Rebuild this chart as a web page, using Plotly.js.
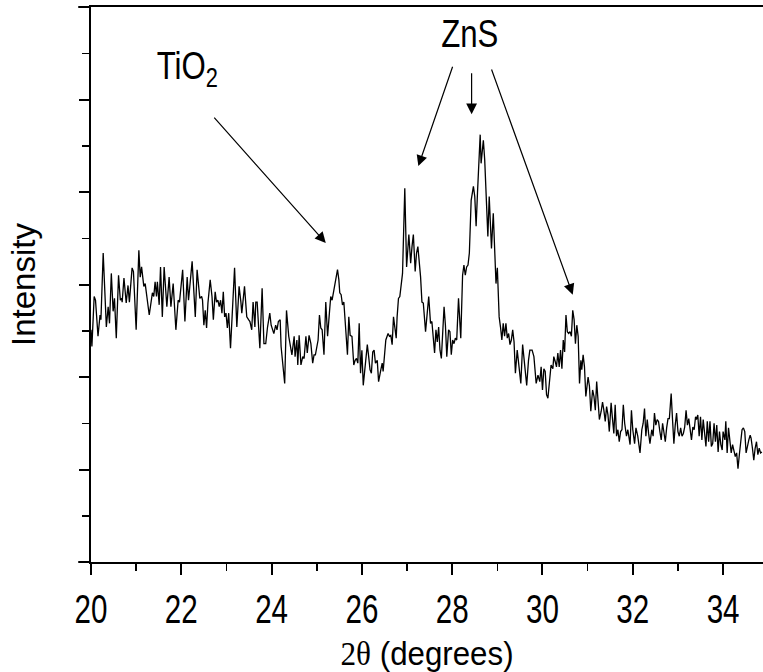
<!DOCTYPE html>
<html>
<head>
<meta charset="utf-8">
<script src="https://cdn.plot.ly/plotly-3.0.1.min.js"></script>
<style>html,body{margin:0;padding:0;background:#fff;}</style>
</head>
<body>
<div id="chart" style="width:763px;height:672px;"></div>
<script>
// 2θ (degrees) and intensity (a.u.), in six stretches
const seg1X = [20.00,20.02,20.07,20.10,20.155,20.20,20.22,20.27,20.34,20.38,20.41,20.45,20.49,20.52,20.56,20.61,20.65,20.68,20.69,20.73,20.78,20.82,20.85,20.91,20.94,21.00,21.06,21.09,21.12,21.17,21.20,21.29,21.36,21.39,21.42,21.45,21.47,21.51,21.54,21.58,21.62,21.68,21.73,21.77,21.82,21.88,21.93,21.96,22.03,22.08,22.13,22.16,22.24,22.31,22.35,22.41];
const seg1Y = [251,233,287,283,244,267,262,334,254,276,258,312,271,285,242,310,283,285,281,307,280,299,281,318,314,251,337,308,319,298,301,267,291,287,303,287,303,278,319,265,319,276,308,276,301,251,283,281,316,260,308,283,325,265,316,285];

const seg2X = [22.45,22.47,22.50,22.53,22.56,22.59,22.64,22.68,22.71,22.75,22.78,22.81,22.84,22.87,22.90,22.93,22.96,22.99,23.02,23.05,23.09,23.13,23.18,23.23,23.28,23.32,23.34,23.40,23.45,23.49,23.52,23.56,23.59,23.63,23.65,23.68,23.74,23.79,23.83,23.87,23.91,23.96,23.99,24.05,24.09,24.12,24.15,24.19,24.21,24.29,24.33,24.38,24.41,24.45,24.50,24.52,24.56,24.58,24.61,24.65,24.69,24.72,24.76,24.79,24.83,24.87,24.91,24.94];
const seg2Y = [287,283,256,272,253,280,305,287,262,292,281,283,276,283,269,292,265,269,253,269,231,272,318,254,298,281,269,298,265,262,260,251,281,254,281,281,231,296,236,236,254,269,256,247,256,251,260,262,233,193,272,244,233,224,244,222,240,213,245,213,222,220,244,226,245,236,215,224];

const seg3X = [24.97,25.00,25.03,25.06,25.09,25.12,25.16,25.20,25.24,25.28,25.31,25.34,25.37,25.40,25.46,25.49,25.51,25.54,25.57,25.60,25.63,25.68,25.71,25.74,25.78,25.82,25.85,25.88,25.91,25.94,25.97,26.00,26.03,26.06,26.12,26.15,26.18,26.21,26.24,26.27,26.30,26.34,26.37,26.42,26.45,26.47,26.50,26.53,26.58,26.61,26.64,26.67,26.70,26.73,26.76,26.78,26.81,26.84,26.87,26.90,26.95,26.99,27.04,27.08,27.11,27.14,27.18,27.21,27.24,27.27,27.30,27.33,27.36,27.41];
const seg3Y = [224,233,240,267,253,251,224,281,244,269,287,283,291,301,316,305,291,289,278,281,262,224,265,245,244,213,218,220,215,258,204,229,191,208,235,222,208,204,227,229,215,218,195,208,215,206,229,240,247,244,245,235,265,254,242,265,285,287,298,312,404,319,354,323,341,354,314,334,341,325,308,281,280,249];

const seg4X = [27.48,27.52,27.55,27.61,27.64,27.67,27.70,27.73,27.76,27.82,27.85,27.88,27.92,27.95,27.98,28.01,28.04,28.07,28.10,28.14,28.19,28.23,28.26,28.29,28.32,28.35,28.38,28.42,28.47,28.50,28.53,28.56,28.59,28.62,28.64,28.69,28.72,28.75,28.79,28.82,28.87,28.91,28.94,28.97,29.00,29.04,29.07,29.10,29.13,29.16,29.19,29.22,29.25,29.28,29.31,29.34,29.37,29.40,29.44,29.47,29.52,29.56,29.61,29.65,29.69,29.72,29.77,29.81,29.86,29.90];
const seg4Y = [287,258,260,226,251,238,254,229,220,276,256,222,251,249,224,240,236,242,240,285,242,310,321,310,319,321,334,391,406,395,363,399,431,462,431,456,435,399,352,395,339,377,341,301,318,265,254,240,258,244,258,242,247,235,240,251,238,204,229,215,193,235,208,191,218,229,229,222,193,202];

const seg5X = [29.94,29.97,30.00,30.03,30.06,30.09,30.12,30.17,30.19,30.23,30.25,30.28,30.31,30.34,30.37,30.40,30.43,30.46,30.49,30.52,30.55,30.58,30.61,30.64,30.67,30.70,30.73,30.76,30.79,30.82,30.85,30.87,30.90,30.93,30.96,31.01,31.04,31.07,31.11,31.14,31.17,31.20,31.23,31.26,31.30,31.33,31.36,31.39,31.42,31.45,31.48,31.52,31.55,31.58,31.61,31.64,31.67,31.70,31.73,31.76,31.79,31.82,31.86,31.89,31.94,31.97,32.00,32.04,32.07,32.11,32.16,32.20,32.23,32.26,32.29,32.32,32.35,32.38];
const seg5Y = [195,211,186,209,206,181,177,209,213,209,222,217,211,226,211,229,209,240,227,267,249,247,249,244,272,262,236,256,244,193,218,208,224,211,179,200,190,163,186,179,164,195,172,154,163,173,164,152,168,159,141,172,155,139,170,136,143,130,141,143,170,150,136,143,127,164,143,128,145,136,118,143,150,166,136,154,139,128];

const seg6X = [32.42,32.45,32.48,32.51,32.54,32.57,32.60,32.63,32.66,32.69,32.72,32.75,32.78,32.81,32.85,32.88,32.91,32.94,32.97,33.00,33.03,33.06,33.09,33.12,33.15,33.18,33.21,33.24,33.27,33.30,33.33,33.36,33.39,33.41,33.44,33.47,33.50,33.53,33.56,33.59,33.62,33.65,33.68,33.71,33.74,33.77,33.80,33.83,33.86,33.89,33.92,33.95,33.98,34.00,34.04,34.06,34.09,34.12,34.15,34.18,34.21,34.24,34.27,34.30,34.33,34.36,34.39,34.42,34.45,34.48,34.51,34.54,34.57,34.60,34.62,34.65,34.68,34.71,34.74,34.77,34.80,34.83,34.86];
const seg6Y = [143,136,161,148,154,152,141,132,150,139,130,145,155,155,182,154,128,148,161,141,136,145,136,139,146,164,148,155,145,132,146,143,157,154,159,136,157,132,154,139,125,152,130,152,125,128,150,130,148,119,141,127,121,141,132,152,118,145,130,118,127,121,114,118,101,116,128,143,145,141,118,127,132,137,134,123,110,123,130,116,123,118,119];

// Peak labels: [text, x, y] and arrows: [tail x, tail y, head x, head y]
const peakLabels = [
  ['TiO<sub>2</sub>', 21.25, 562],
  ['ZnS', 28.405, 597]
];
const peakArrows = [
  [22.70, 482, 25.20, 345],
  [28.02, 537, 27.25, 428],
  [28.43, 530, 28.43, 484],
  [28.86, 534, 30.67, 289]
];

const xTicks = [20, 22, 24, 26, 28, 30, 32, 34];

const segsX = [seg1X, seg2X, seg3X, seg4X, seg5X, seg6X];
const segsY = [seg1Y, seg2Y, seg3Y, seg4Y, seg5Y, seg6Y];
segsX.forEach((s, i) => { if (s.length !== segsY[i].length) throw new Error('segment ' + (i+1) + ' length mismatch ' + s.length + ' vs ' + segsY[i].length); });
const twoTheta = [].concat(...segsX);
const intensity = [].concat(...segsY);

const sans = 'Liberation Sans, Arial, Helvetica, sans-serif';

const trace = {
  x: twoTheta, y: intensity, type: 'scatter', mode: 'lines',
  line: {color: '#000', width: 1.3}, hoverinfo: 'skip'
};

const annotations = [];
peakLabels.forEach((p, i) => {
  annotations.push({
    text: p[0], x: p[1], y: p[2], xref: 'x', yref: 'y',
    xanchor: i === 0 ? 'left' : 'center', yanchor: 'top', showarrow: false,
    font: {family: sans, size: 39, color: '#000'}
  });
});
peakArrows.forEach(a => {
  annotations.push({
    text: '', x: a[2], y: a[3], ax: a[0], ay: a[1], xref: 'x', yref: 'y', axref: 'x', ayref: 'y',
    showarrow: true, arrowhead: 2, arrowsize: 1.8, arrowwidth: 1.2, arrowcolor: '#000', standoff: 0
  });
});

const layout = {
  width: 763, height: 672,
  margin: {l: 91, r: 0, t: 7, b: 110, pad: 0},
  paper_bgcolor: '#fff', plot_bgcolor: '#fff',
  showlegend: false,
  xaxis: {
    range: [20, 34.884], tickmode: 'array', tickvals: xTicks, ticktext: xTicks.map(String),
    ticks: 'outside', ticklen: 11, tickwidth: 2, tickcolor: '#000',
    minor: {dtick: 1, tick0: 20, ticks: 'outside', ticklen: 7, tickwidth: 1.5, tickcolor: '#000', showgrid: false},
    showline: true, linewidth: 2, linecolor: '#000', mirror: true,
    showgrid: false, zeroline: false,
    tickfont: {family: sans, size: 40, color: '#000'},
    title: {text: '<span style="font-family:Liberation Serif, Times New Roman, serif">2θ</span> (degrees)',
            font: {family: sans, size: 34, color: '#000'}, standoff: 21}
  },
  yaxis: {
    range: [0, 600], tickmode: 'linear', tick0: 0, dtick: 100,
    ticks: 'outside', ticklen: 10, tickwidth: 2, tickcolor: '#000', showticklabels: false,
    minor: {dtick: 50, tick0: 0, ticks: 'outside', ticklen: 7, tickwidth: 1.5, tickcolor: '#000', showgrid: false},
    showline: true, linewidth: 2, linecolor: '#000', mirror: false,
    showgrid: false, zeroline: false,
    title: {text: 'Intensity', font: {family: sans, size: 33, color: '#000'}, standoff: 33}
  },
  shapes: [
    {type: 'line', xref: 'paper', yref: 'paper', x0: -0.019, x1: 0, y0: 0, y1: 0, line: {color: '#000', width: 2}},
    {type: 'line', xref: 'paper', yref: 'paper', x0: -0.019, x1: 0, y0: 1, y1: 1, line: {color: '#000', width: 2}}
  ],
  annotations: annotations
};

// The reference lettering is horizontally condensed; squeeze the drawn text about its anchor.
function squeeze(sel, f) {
  document.querySelectorAll(sel).forEach(el => {
    const x = parseFloat(el.getAttribute('x')) || 0;
    const t = el.getAttribute('transform') || '';
    el.setAttribute('transform', (t + ' translate(' + x + ',0) scale(' + f + ',1) translate(' + (-x) + ',0)').trim());
  });
}

Plotly.newPlot('chart', [trace], layout, {displayModeBar: false, staticPlot: true}).then(() => {
  squeeze('#chart .xtick text', 0.74);
  squeeze('#chart .annotation-text', 0.8);
  squeeze('#chart .g-xtitle text', 0.92);
});
</script>
</body>
</html>
